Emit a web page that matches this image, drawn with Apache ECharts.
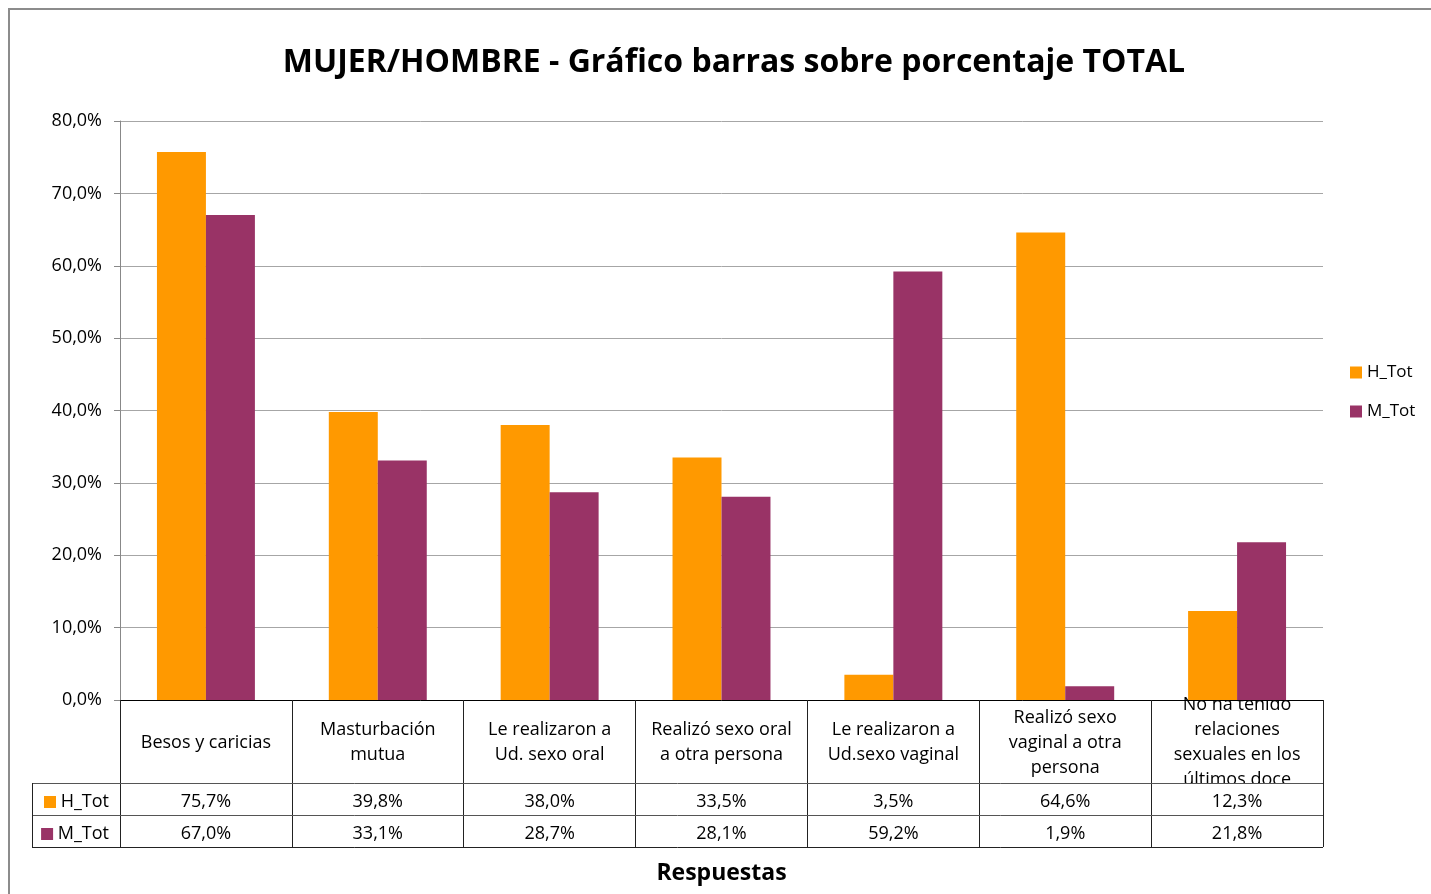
<!DOCTYPE html>
<html>
<head>
<meta charset="utf-8">
<script src="https://cdn.jsdelivr.net/npm/echarts@6/dist/echarts.min.js"></script>
<style>
  html, body { margin: 0; padding: 0; background: #fff; }
  #chart { width: 1431px; height: 894px; }
</style>
</head>
<body>
<div id="chart"></div>
<script>
// datos
var categories = [
  "Besos y caricias",
  "Masturbación\nmutua",
  "Le realizaron a\nUd. sexo oral",
  "Realizó sexo oral\na otra persona",
  "Le realizaron a\nUd.sexo vaginal",
  "Realizó sexo\nvaginal a otra\npersona",
  "No ha tenido\nrelaciones\nsexuales en los\núltimos doce"
];
var hTot = [75.7, 39.8, 38.0, 33.5, 3.5, 64.6, 12.3];
var mTot = [67.0, 33.1, 28.7, 28.1, 59.2, 1.9, 21.8];
var seriesNames = ["H_Tot", "M_Tot"];
var yTicks = [0, 80, 10]; // min, max, interval

var FONT = "Open Sans";
var colors = ["#ff9900", "#993366"];

// layout
var gridLeft = 120, gridRight = 108, gridTop = 121, gridBottom = 194;
var plotBottom = 894 - gridBottom;        // 700
var catRowH = 83, rowH = 32;
var tableLeft = 32;
var colW = (1431 - gridLeft - gridRight) / categories.length;

function pct(v) {
  return v.toFixed(1).replace(".", ",") + "%";
}

var myChart = echarts.init(document.getElementById("chart"));

var tableLines = [];
[catRowH, catRowH + rowH, catRowH + 2 * rowH].forEach(function (dy) {
  tableLines.push({
    type: "line", z: 60,
    shape: { x1: tableLeft, y1: plotBottom + dy + 0.5, x2: 1431 - gridRight, y2: plotBottom + dy + 0.5 },
    style: { stroke: dy === catRowH + 2 * rowH ? "#222" : "#555", lineWidth: 1 }
  });
});
tableLines.push({
  type: "line", z: 60,
  shape: { x1: tableLeft + 0.5, y1: plotBottom + catRowH, x2: tableLeft + 0.5, y2: plotBottom + catRowH + 2 * rowH },
  style: { stroke: "#222", lineWidth: 1 }
});

function valueAxis(arr, idx, offset) {
  return {
    type: "category",
    data: categories,
    position: "bottom",
    offset: offset,
    z: 100,
    axisLine: { show: false },
    axisTick: { show: false },
    axisLabel: {
      interval: 0,
      margin: 0,
      verticalAlign: "middle",
      fontFamily: FONT,
      fontSize: 18,
      color: "#000",
      formatter: function (v, i) { return pct(arr[i]); }
    },
    name: "{sq|} " + seriesNames[idx],
    nameLocation: "start",
    nameGap: 11,
    nameTextStyle: {
      fontFamily: FONT,
      fontSize: 18,
      color: "#000",
      verticalAlign: "middle",
      rich: {
        sq: { width: 12, height: 12, backgroundColor: colors[idx] }
      }
    }
  };
}

var option = {
  animation: false,
  backgroundColor: "#fff",
  title: {
    text: "MUJER/HOMBRE - Gráfico barras sobre porcentaje TOTAL",
    left: 729,
    textAlign: "center",
    top: 42,
    textStyle: { fontFamily: FONT, fontSize: 32, fontWeight: "bold", color: "#000" }
  },
  legend: {
    orient: "vertical",
    left: 1345,
    top: 359,
    icon: "rect",
    itemWidth: 12,
    itemHeight: 12,
    itemGap: 22,
    itemStyle: { borderWidth: 0 },
    textStyle: { fontFamily: FONT, fontSize: 17, color: "#000" },
    data: seriesNames
  },
  grid: {
    left: gridLeft, right: gridRight, top: gridTop, bottom: gridBottom,
    outerBoundsMode: "none", containLabel: false
  },
  xAxis: [
    {
      type: "category",
      data: categories,
      position: "bottom",
      axisLine: { lineStyle: { color: "#000", width: 1 } },
      axisTick: { show: true, interval: 0, length: catRowH + 2 * rowH, lineStyle: { color: "#222" } },
      axisLabel: {
        interval: 0,
        margin: catRowH / 2 + 1,
        verticalAlign: "middle",
        lineHeight: 25,
        fontFamily: FONT,
        fontSize: 18,
        color: "#000"
      },
      name: "Respuestas",
      nameLocation: "middle",
      nameGap: 162,
      nameTextStyle: { fontFamily: FONT, fontSize: 23, fontWeight: "bold", color: "#000" }
    },
    valueAxis(hTot, 0, catRowH + rowH / 2 + 3),
    valueAxis(mTot, 1, catRowH + rowH + rowH / 2 + 3)
  ],
  yAxis: {
    type: "value",
    min: yTicks[0],
    max: yTicks[1],
    interval: yTicks[2],
    axisLine: { show: true, lineStyle: { color: "#888" } },
    axisTick: { show: true, length: 6, lineStyle: { color: "#888" } },
    splitLine: { lineStyle: { color: "#a6a6a6" } },
    axisLabel: {
      margin: 18,
      padding: [5, 0, 0, 0],
      fontFamily: FONT,
      fontSize: 18,
      color: "#000",
      formatter: function (v) { return pct(v); }
    }
  },
  series: [
    { name: seriesNames[0], type: "bar", data: hTot, itemStyle: { color: colors[0] }, barGap: "0%", barCategoryGap: "43%" },
    { name: seriesNames[1], type: "bar", data: mTot, itemStyle: { color: colors[1] }, barGap: "0%", barCategoryGap: "43%" }
  ],
  graphic: [
    {
      type: "rect", z: -10, silent: true,
      shape: { x: 9, y: 9, width: 1500, height: 1000 },
      style: { fill: "none", stroke: "#8c8c8c", lineWidth: 2 }
    },
    {
      // tapa la linea cortada de la ultima celda
      type: "rect", z: 50, silent: true,
      shape: { x: gridLeft + 6 * colW + 1, y: plotBottom + catRowH + 1, width: colW - 2, height: rowH - 1 },
      style: { fill: "#fff" }
    }
  ].concat(tableLines)
};

myChart.setOption(option);
</script>
</body>
</html>
